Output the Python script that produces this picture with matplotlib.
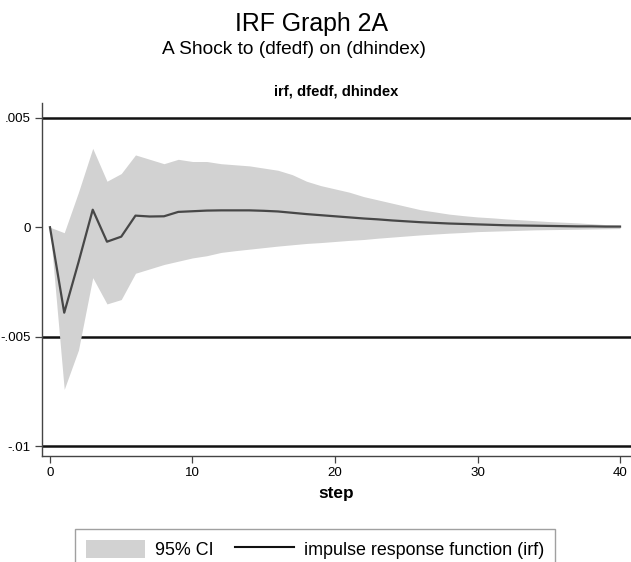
import matplotlib
matplotlib.use("Agg")
import matplotlib.pyplot as plt
from matplotlib import font_manager
from matplotlib.patches import Patch
from matplotlib.lines import Line2D

steps = list(range(41))
irf = [0, -0.0039, -0.0016, 0.0008, -0.00066, -0.00043, 0.00053, 0.00049, 0.0005, 0.0007,
       0.00073, 0.00076, 0.00077, 0.00077, 0.00077, 0.00075, 0.00072, 0.00066, 0.0006, 0.00055,
       0.0005, 0.00045, 0.0004, 0.00036, 0.00031, 0.00027, 0.00023, 0.0002, 0.00017, 0.00015,
       0.00013, 0.00011, 0.00009, 0.00008, 0.00007, 0.00006, 0.00005, 0.00004, 0.00004, 0.00003,
       0.00003]
upper = [0, -0.00025, 0.0016, 0.0036, 0.0021, 0.00245, 0.0033, 0.0031, 0.0029, 0.0031,
         0.0030, 0.0030, 0.0029, 0.00285, 0.0028, 0.0027, 0.0026, 0.0024, 0.0021, 0.0019,
         0.00175, 0.0016, 0.0014, 0.00125, 0.0011, 0.00095, 0.0008, 0.0007, 0.0006, 0.00053,
         0.00047, 0.00043, 0.00038, 0.00034, 0.0003, 0.00026, 0.00023, 0.0002, 0.00016, 0.00012,
         0.0001]
lower = [0, -0.0074, -0.0056, -0.0023, -0.0035, -0.0033, -0.0021, -0.0019, -0.0017, -0.00155,
         -0.0014, -0.0013, -0.00115, -0.00107, -0.001, -0.00093, -0.00086, -0.0008, -0.00074, -0.0007,
         -0.00065, -0.0006, -0.00056, -0.0005, -0.00045, -0.0004, -0.00035, -0.00031, -0.00027, -0.00024,
         -0.0002, -0.00018, -0.00016, -0.00014, -0.00012, -0.00011, -0.0001, -0.00009, -0.00008, -0.00007,
         -0.00006]
yticks = [0.005, 0, -0.005, -0.01]
ytick_labels = [".005", "0", "-.005", "-.01"]
xticks = [0, 10, 20, 30, 40]
title = "IRF Graph 2A"
subtitle = "A Shock to (dfedf) on (dhindex)"
panel_title = "irf, dfedf, dhindex"
xlabel = "step"
legend_labels = ["95% CI", "impulse response function (irf)"]

names = {f.name for f in font_manager.fontManager.ttflist}
if "Liberation Sans Narrow" in names:
    FAM = ["Liberation Sans Narrow", "DejaVu Sans"]
    k = 1.0
else:
    FAM = ["Liberation Sans", "DejaVu Sans"]
    k = 0.92
plt.rcParams["font.family"] = FAM

fig = plt.figure(figsize=(6.31, 5.62), dpi=100)
ax = fig.add_axes([42 / 631, 1 - 456 / 562, 589 / 631, (456 - 103) / 562])

band_col = "#d2d2d2"
line_col = "#474747"

for yv in [0.005, -0.005, -0.01]:
    ax.axhline(yv, color="#111111", lw=1.8, zorder=1)
ax.fill_between(steps, lower, upper, color=band_col, lw=0, zorder=2)
ax.plot(steps, irf, color=line_col, lw=1.6, zorder=3)

ax.set_xlim(-0.56, 40.77)
ax.set_ylim(-0.01044, 0.00567)
ax.set_yticks(yticks)
ax.set_yticklabels(ytick_labels)
ax.set_xticks(xticks)
ax.tick_params(axis="both", direction="out", length=5, width=0.9, color="#444444",
               labelsize=10.5 * k, pad=3)
for s in ["top", "right"]:
    ax.spines[s].set_visible(False)
for s in ["left", "bottom"]:
    ax.spines[s].set_color("#444444")
    ax.spines[s].set_linewidth(1.0)

ax.set_xlabel(xlabel, fontsize=13.5 * k, fontweight="bold", labelpad=5)

fig.text(312 / 631, 1 - 24 / 562, title, ha="center", va="center", fontsize=19.5 * k)
fig.text(294 / 631, 1 - 50 / 562, subtitle, ha="center", va="center", fontsize=15 * k)
fig.text(336 / 631, 1 - 92 / 562, panel_title, ha="center", va="center", fontsize=11.5 * k,
         fontweight="bold")

handles = [Patch(facecolor=band_col, edgecolor="none"),
           Line2D([0], [0], color="#111111", lw=1.5)]
leg = fig.legend(handles, legend_labels, loc="upper center", bbox_to_anchor=(315 / 631, 1 - 520 / 562),
                 ncol=2, frameon=True, fancybox=False, fontsize=14 * k, handlelength=3.3,
                 handleheight=1.2, columnspacing=1.2, borderpad=0.6, handletextpad=0.55)
leg.get_frame().set_edgecolor("#888888")
leg.get_frame().set_linewidth(1.0)

fig.savefig("out.png", dpi=100)
